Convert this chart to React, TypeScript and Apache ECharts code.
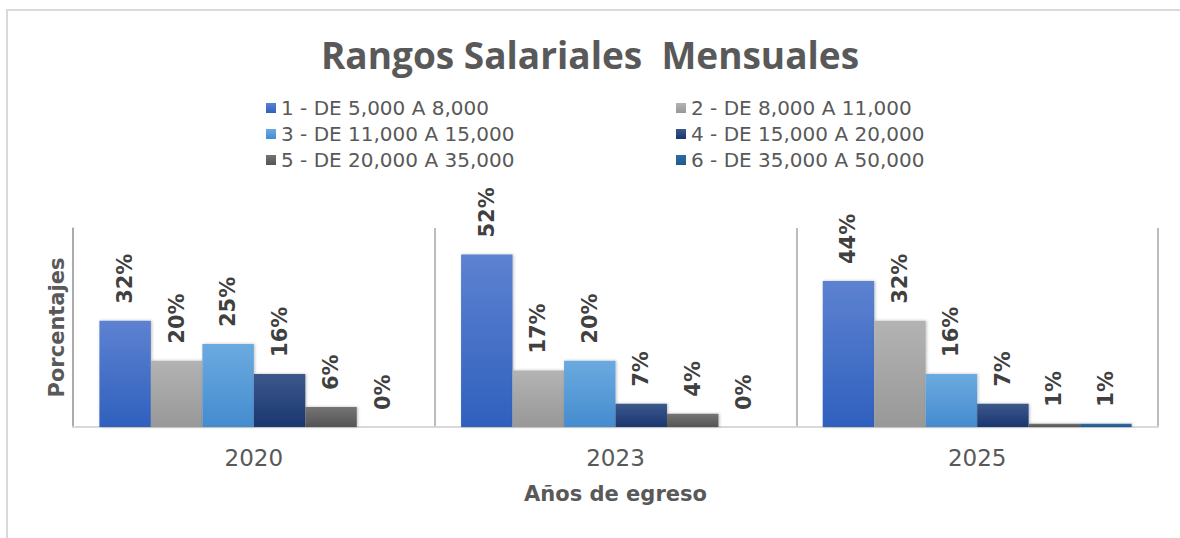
import React, { useEffect, useRef } from "react";
import * as echarts from "echarts";

const categories = ["2020", "2023", "2025"];
const seriesNames = [
  "1 - DE 5,000 A 8,000",
  "2 - DE 8,000 A 11,000",
  "3 - DE 11,000 A 15,000",
  "4 - DE 15,000 A 20,000",
  "5 - DE 20,000 A 35,000",
  "6 - DE 35,000 A 50,000",
];
const range1 = [32, 52, 44];
const range2 = [20, 17, 32];
const range3 = [25, 20, 16];
const range4 = [16, 7, 7];
const range5 = [6, 4, 1];
const range6 = [0, 0, 1];
const seriesValues = [range1, range2, range3, range4, range5, range6];

const colorPairs = [
  ["#5d82d0", "#2f60be"],
  ["#b3b3b3", "#989898"],
  ["#6caae0", "#448ccf"],
  ["#3c588c", "#1b366f"],
  ["#747474", "#545454"],
  ["#2f6ba4", "#1f5a8e"],
];

const FONT = "'DejaVu Sans', 'Open Sans', sans-serif";
const TITLE_FONT = "'Open Sans', 'DejaVu Sans', sans-serif";

export default function App() {
  const ref = useRef<HTMLDivElement>(null);
  useEffect(() => {
    document.body.style.margin = "0";
    if (!ref.current) return;
    const chart = echarts.init(ref.current, null, { renderer: "svg" });
    const series = seriesNames.map((name, i) => ({
      name,
      type: "bar",
      data: seriesValues[i],
      barGap: "0%",
      barCategoryGap: "14.6%",
      itemStyle: {
        color: new echarts.graphic.LinearGradient(0, 0, 0, 1, [
          { offset: 0, color: colorPairs[i][0] },
          { offset: 1, color: colorPairs[i][1] },
        ]),
        shadowColor: "rgba(0,0,0,0.25)",
        shadowBlur: 3,
        shadowOffsetX: 1,
        shadowOffsetY: 0,
      },
      label: {
        show: true,
        position: "top",
        rotate: 90,
        align: "left",
        verticalAlign: "middle",
        distance: 17,
        formatter: (p: any) => `${Math.round(p.value)}%`,
        fontFamily: FONT,
        fontWeight: "bold",
        fontSize: 21,
        color: "#404040",
      },
    }));
    const legendText = {
      fontFamily: FONT,
      fontSize: 20,
      lineHeight: 22,
      color: "#595959",
    };
    chart.setOption({
      animation: false,
      backgroundColor: "#ffffff",
      textStyle: { fontFamily: FONT },
      title: {
        text: "Rangos Salariales  Mensuales",
        left: "center",
        top: 31,
        textStyle: {
          fontFamily: TITLE_FONT,
          fontWeight: "bold",
          fontSize: 37,
          color: "#595959",
        },
      },
      legend: [
        {
          data: [seriesNames[0], seriesNames[2], seriesNames[4]],
          orient: "vertical",
          left: 266,
          top: 97,
          icon: "rect",
          itemWidth: 10,
          itemHeight: 10,
          itemGap: 4,
          padding: 0,
          textStyle: legendText,
        },
        {
          data: [seriesNames[1], seriesNames[3], seriesNames[5]],
          orient: "vertical",
          left: 676,
          top: 97,
          icon: "rect",
          itemWidth: 10,
          itemHeight: 10,
          itemGap: 4,
          padding: 0,
          textStyle: legendText,
        },
      ],
      grid: { left: 73, right: 22, top: 228, bottom: 111, containLabel: false },
      xAxis: {
        type: "category",
        data: categories,
        name: "Años de egreso",
        nameLocation: "middle",
        nameGap: 56,
        nameTextStyle: {
          fontFamily: FONT,
          fontWeight: "bold",
          fontSize: 21,
          color: "#595959",
        },
        axisLine: { show: true, lineStyle: { color: "#d9d9d9", width: 2 } },
        axisTick: { show: false },
        axisLabel: {
          margin: 19,
          fontFamily: FONT,
          fontSize: 23,
          color: "#595959",
        },
        splitLine: {
          show: true,
          lineStyle: { color: "#a6a6a6", width: 1.5 },
        },
      },
      yAxis: {
        type: "value",
        min: 0,
        max: 60,
        interval: 10,
        name: "Porcentajes",
        nameLocation: "middle",
        nameGap: 6,
        nameTextStyle: {
          fontFamily: FONT,
          fontWeight: "bold",
          fontSize: 21,
          color: "#595959",
        },
        axisLine: { show: true, lineStyle: { color: "#a6a6a6", width: 1.5 } },
        axisTick: { show: false },
        axisLabel: { show: false },
        splitLine: { show: false },
      },
      graphic: [
        {
          type: "rect",
          shape: { x: 7, y: 10, width: 1200, height: 560 },
          style: { fill: "none", stroke: "#d9d9d9", lineWidth: 2 },
          silent: true,
        },
      ],
      series,
    });
    return () => chart.dispose();
  }, []);
  return <div ref={ref} style={{ width: 1180, height: 538 }} />;
}
